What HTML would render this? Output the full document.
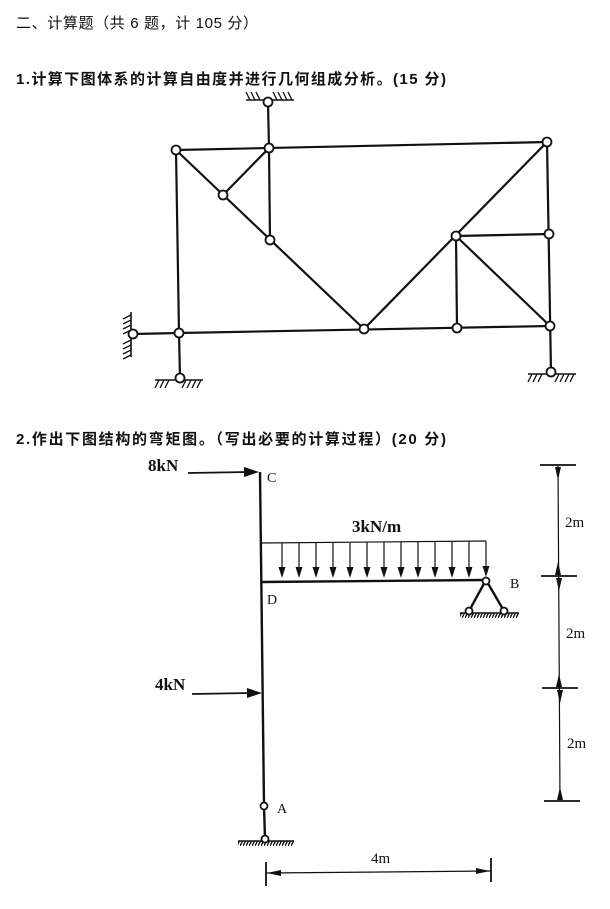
<!DOCTYPE html>
<html><head><meta charset="utf-8"><style>
html,body{margin:0;padding:0;background:#fff;}
svg{display:block;}
text{font-family:"Liberation Serif","Noto Serif CJK SC","Noto Sans CJK SC",serif;fill:#111;}
.cj{font-family:"Liberation Sans","Noto Sans CJK SC",sans-serif;}
</style></head><body>
<svg width="610" height="909" viewBox="0 0 610 909" xmlns="http://www.w3.org/2000/svg">
<defs>
<pattern id="hat" width="3" height="6" patternUnits="userSpaceOnUse"><line x1="3" y1="0" x2="0" y2="6" stroke="#111" stroke-width="1.3"/></pattern>
</defs>
<text class="cj" x="16" y="28" font-size="15" textLength="242">二、计算题（共 6 题，计 105 分）</text>
<text class="cj" x="16" y="84" font-size="15" font-weight="bold" textLength="430">1.计算下图体系的计算自由度并进行几何组成分析。(15 分)</text>
<text class="cj" x="16" y="444" font-size="15" font-weight="bold" textLength="430">2.作出下图结构的弯矩图。（写出必要的计算过程）(20 分)</text>

<!-- Truss -->
<g stroke="#111" stroke-width="2.2" fill="none">
<line x1="176" y1="150" x2="547" y2="142"/>
<line x1="176" y1="150" x2="179" y2="333"/>
<line x1="179" y1="333" x2="550" y2="326"/>
<line x1="133" y1="334" x2="179" y2="333"/>
<line x1="179" y1="333" x2="180" y2="378"/>
<line x1="268" y1="102" x2="269" y2="148"/>
<line x1="269" y1="148" x2="270" y2="240"/>
<line x1="176" y1="150" x2="364" y2="329"/>
<line x1="223" y1="195" x2="269" y2="148"/>
<line x1="364" y1="329" x2="547" y2="142"/>
<line x1="547" y1="142" x2="551" y2="372"/>
<line x1="456" y1="236" x2="549" y2="234"/>
<line x1="456" y1="236" x2="457" y2="328"/>
<line x1="456" y1="236" x2="550" y2="326"/>
</g>
<g stroke="#111" stroke-width="1.6">
<line x1="246" y1="100" x2="294" y2="100"/>
<g stroke-width="1.3">
<line x1="250" y1="100" x2="246" y2="92"/><line x1="255" y1="100" x2="251" y2="92"/><line x1="260" y1="100" x2="256" y2="92"/>
<line x1="277" y1="100" x2="273" y2="92"/><line x1="282" y1="100" x2="278" y2="92"/><line x1="287" y1="100" x2="283" y2="92"/><line x1="292" y1="100" x2="288" y2="92"/>
</g>
<line x1="155" y1="380" x2="203" y2="380"/>
<g stroke-width="1.3">
<line x1="159" y1="380" x2="155" y2="388"/><line x1="164" y1="380" x2="160" y2="388"/><line x1="169" y1="380" x2="165" y2="388"/>
<line x1="186" y1="380" x2="182" y2="388"/><line x1="191" y1="380" x2="187" y2="388"/><line x1="196" y1="380" x2="192" y2="388"/><line x1="201" y1="380" x2="197" y2="388"/>
</g>
<line x1="528" y1="374" x2="576" y2="374"/>
<g stroke-width="1.3">
<line x1="532" y1="374" x2="528" y2="382"/><line x1="537" y1="374" x2="533" y2="382"/><line x1="542" y1="374" x2="538" y2="382"/>
<line x1="559" y1="374" x2="555" y2="382"/><line x1="564" y1="374" x2="560" y2="382"/><line x1="569" y1="374" x2="565" y2="382"/><line x1="574" y1="374" x2="570" y2="382"/>
</g>
<line x1="131" y1="312" x2="131" y2="357"/>
<g stroke-width="1.3">
<line x1="131" y1="315" x2="123" y2="319"/><line x1="131" y1="320" x2="123" y2="324"/><line x1="131" y1="325" x2="123" y2="329"/><line x1="131" y1="330" x2="123" y2="334"/>
<line x1="131" y1="340" x2="123" y2="344"/><line x1="131" y1="345" x2="123" y2="349"/><line x1="131" y1="350" x2="123" y2="354"/><line x1="131" y1="355" x2="123" y2="359"/>
</g>
</g>
<g fill="#fff" stroke="#111" stroke-width="1.8">
<circle cx="268" cy="102" r="4.5"/><circle cx="176" cy="150" r="4.5"/><circle cx="269" cy="148" r="4.5"/>
<circle cx="547" cy="142" r="4.5"/><circle cx="223" cy="195" r="4.5"/><circle cx="270" cy="240" r="4.5"/>
<circle cx="456" cy="236" r="4.5"/><circle cx="549" cy="234" r="4.5"/><circle cx="179" cy="333" r="4.5"/>
<circle cx="133" cy="334" r="4.5"/><circle cx="180" cy="378" r="4.5"/><circle cx="364" cy="329" r="4.5"/>
<circle cx="457" cy="328" r="4.5"/><circle cx="550" cy="326" r="4.5"/><circle cx="551" cy="372" r="4.5"/>
</g>

<!-- Frame problem 2 -->
<g stroke="#111" stroke-width="2.4" fill="none">
<line x1="260" y1="472" x2="264" y2="806"/>
<line x1="261" y1="582" x2="486" y2="580"/>
<line x1="264" y1="806" x2="265" y2="839"/>
<line x1="486" y1="580" x2="469" y2="611"/>
<line x1="486" y1="580" x2="504" y2="611"/>
</g>
<line x1="261" y1="543" x2="486" y2="541" stroke="#111" stroke-width="1.2"/>
<g stroke="#111" stroke-width="1.2">
<line x1="282" y1="543" x2="282" y2="570"/><line x1="299" y1="543" x2="299" y2="570"/>
<line x1="316" y1="543" x2="316" y2="570"/><line x1="333" y1="543" x2="333" y2="570"/>
<line x1="350" y1="543" x2="350" y2="570"/><line x1="367" y1="542" x2="367" y2="570"/>
<line x1="384" y1="542" x2="384" y2="570"/><line x1="401" y1="542" x2="401" y2="570"/>
<line x1="418" y1="542" x2="418" y2="570"/><line x1="435" y1="542" x2="435" y2="570"/>
<line x1="452" y1="541" x2="452" y2="570"/><line x1="469" y1="541" x2="469" y2="570"/>
<line x1="486" y1="541" x2="486" y2="570"/>
</g>
<g fill="#111">
<path d="M278.5,567 h7 l-3.5,11z"/><path d="M295.5,567 h7 l-3.5,11z"/><path d="M312.5,567 h7 l-3.5,11z"/>
<path d="M329.5,567 h7 l-3.5,11z"/><path d="M346.5,567 h7 l-3.5,11z"/><path d="M363.5,567 h7 l-3.5,11z"/>
<path d="M380.5,567 h7 l-3.5,11z"/><path d="M397.5,567 h7 l-3.5,11z"/><path d="M414.5,567 h7 l-3.5,11z"/>
<path d="M431.5,567 h7 l-3.5,11z"/><path d="M448.5,567 h7 l-3.5,11z"/><path d="M465.5,567 h7 l-3.5,11z"/>
<path d="M482.5,566 h7 l-3.5,11z"/>
</g>
<rect x="460" y="613" width="59" height="5" fill="url(#hat)"/>
<line x1="460" y1="613" x2="519" y2="613" stroke="#111" stroke-width="1.6"/>
<rect x="238" y="841" width="56" height="5" fill="url(#hat)"/>
<line x1="238" y1="841" x2="294" y2="841" stroke="#111" stroke-width="1.6"/>
<g fill="#fff" stroke="#111" stroke-width="1.8">
<circle cx="486" cy="581" r="3.5"/><circle cx="469" cy="611" r="3.5"/><circle cx="504" cy="611" r="3.5"/>
<circle cx="264" cy="806" r="3.5"/><circle cx="265" cy="839" r="3.5"/>
</g>
<!-- point loads -->
<line x1="188" y1="473" x2="248" y2="472" stroke="#111" stroke-width="1.8"/>
<path d="M259,472 L244,467 L244,477z" fill="#111"/>
<line x1="192" y1="694" x2="250" y2="693" stroke="#111" stroke-width="1.8"/>
<path d="M262,693 L247,688 L247,698z" fill="#111"/>
<text x="148" y="471" font-size="17" font-weight="bold">8kN</text>
<text x="155" y="690" font-size="17" font-weight="bold">4kN</text>
<text x="352" y="532" font-size="17" font-weight="bold">3kN/m</text>
<text x="267" y="482" font-size="14">C</text>
<text x="267" y="604" font-size="14">D</text>
<text x="510" y="588" font-size="14">B</text>
<text x="277" y="813" font-size="14">A</text>
<!-- vertical dimension -->
<g stroke="#111" stroke-width="1.2">
<line x1="540" y1="465" x2="576" y2="465" stroke-width="1.8"/>
<line x1="541" y1="576" x2="577" y2="576" stroke-width="1.8"/>
<line x1="542" y1="688" x2="578" y2="688" stroke-width="1.8"/>
<line x1="544" y1="801" x2="580" y2="801" stroke-width="1.8"/>
<line x1="558" y1="465" x2="560" y2="801"/>
<path d="M555,467 L561,467 L558,480 z" fill="#111" stroke="none"/>
<path d="M555,575 L561,575 L558,562 z" fill="#111" stroke="none"/>
<path d="M556,578 L562,578 L559,591 z" fill="#111" stroke="none"/>
<path d="M556,687 L562,687 L559,674 z" fill="#111" stroke="none"/>
<path d="M557,690 L563,690 L560,703 z" fill="#111" stroke="none"/>
<path d="M557,800 L563,800 L560,787 z" fill="#111" stroke="none"/>
</g>
<text x="565" y="527" font-size="15">2m</text>
<text x="566" y="638" font-size="15">2m</text>
<text x="567" y="748" font-size="15">2m</text>
<!-- horizontal dimension -->
<g stroke="#111">
<line x1="266" y1="862" x2="266" y2="886" stroke-width="1.8"/>
<line x1="491" y1="858" x2="491" y2="882" stroke-width="1.8"/>
<line x1="266" y1="873" x2="491" y2="871" stroke-width="1.2"/>
<path d="M267,873 L281,870 L281,876 z" fill="#111" stroke="none"/>
<path d="M490,871 L476,868 L476,874 z" fill="#111" stroke="none"/>
</g>
<text x="371" y="863" font-size="15">4m</text>
</svg>
</body></html>
